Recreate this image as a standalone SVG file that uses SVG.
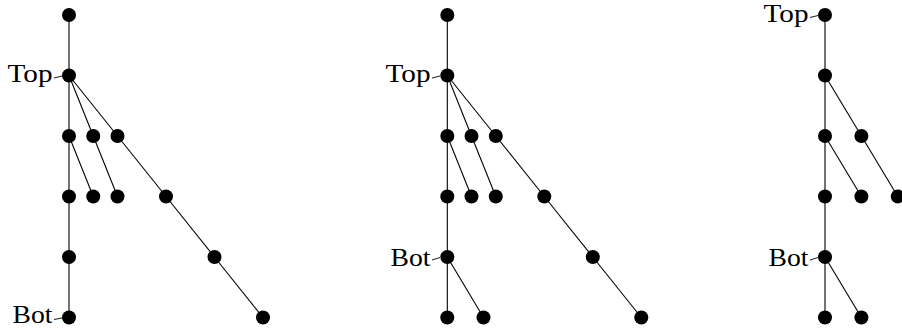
<svg xmlns="http://www.w3.org/2000/svg" width="902" height="329" viewBox="0 0 902 329">
  <style>
    .edge { stroke: #000; stroke-width: 1.1; fill: none; }
    .pin { stroke: #000; stroke-width: 0.9; fill: none; }
    .dot { fill: #000; }
    .lbl { font-family: "Liberation Serif", "Times New Roman", serif; font-size: 26px; fill: #000; text-anchor: end; }
  </style>
  <defs>
    <circle id="dot" r="7" class="dot"/>
  </defs>

  <!-- connectors -->
  <g id="edges" class="edge">
    <!-- tree 1 -->
    <line x1="69" y1="15" x2="69" y2="317.5"/>
    <line x1="69" y1="75.5" x2="93.25" y2="136"/>
    <line x1="69" y1="75.5" x2="117.5" y2="136"/>
    <line x1="69" y1="136" x2="93.25" y2="196.5"/>
    <line x1="93.25" y1="136" x2="117.5" y2="196.5"/>
    <line x1="117.5" y1="136" x2="166" y2="196.5"/>
    <line x1="166" y1="196.5" x2="214.5" y2="257"/>
    <line x1="214.5" y1="257" x2="263" y2="317.5"/>
    <!-- tree 2 -->
    <line x1="447.3" y1="15" x2="447.3" y2="317.5"/>
    <line x1="447.3" y1="75.5" x2="471.5" y2="136"/>
    <line x1="447.3" y1="75.5" x2="495.8" y2="136"/>
    <line x1="447.3" y1="136" x2="471.5" y2="196.5"/>
    <line x1="471.5" y1="136" x2="495.8" y2="196.5"/>
    <line x1="495.8" y1="136" x2="544.3" y2="196.5"/>
    <line x1="544.3" y1="196.5" x2="592.8" y2="257"/>
    <line x1="592.8" y1="257" x2="641.3" y2="317.5"/>
    <line x1="447.3" y1="257" x2="483.5" y2="317.5"/>
    <!-- tree 3 -->
    <line x1="825" y1="15" x2="825" y2="317.5"/>
    <line x1="825" y1="75.5" x2="861.4" y2="136"/>
    <line x1="825" y1="136" x2="861.4" y2="196.5"/>
    <line x1="861.4" y1="136" x2="897.8" y2="196.5"/>
    <line x1="825" y1="257" x2="861.4" y2="317.5"/>
  </g>

  <!-- tree 1 nodes -->
  <g id="t1-n0"><use href="#dot" x="69" y="15"/></g>
  <g id="t1-top">
    <use href="#dot" x="69" y="75.5"/>
    <line class="pin" x1="54" y1="78" x2="62" y2="76"/>
    <text class="lbl" x="52.5" y="82" textLength="45" lengthAdjust="spacingAndGlyphs">Top</text>
  </g>
  <g id="t1-a0"><use href="#dot" x="69" y="136"/></g>
  <g id="t1-a1"><use href="#dot" x="93.25" y="136"/></g>
  <g id="t1-a2"><use href="#dot" x="117.5" y="136"/></g>
  <g id="t1-b0"><use href="#dot" x="69" y="196.5"/></g>
  <g id="t1-b1"><use href="#dot" x="93.25" y="196.5"/></g>
  <g id="t1-b2"><use href="#dot" x="117.5" y="196.5"/></g>
  <g id="t1-b3"><use href="#dot" x="166" y="196.5"/></g>
  <g id="t1-c0"><use href="#dot" x="69" y="257"/></g>
  <g id="t1-c1"><use href="#dot" x="214.5" y="257"/></g>
  <g id="t1-bot">
    <use href="#dot" x="69" y="317.5"/>
    <line class="pin" x1="54" y1="319.5" x2="62" y2="318"/>
    <text class="lbl" x="52.5" y="323" textLength="40" lengthAdjust="spacingAndGlyphs">Bot</text>
  </g>
  <g id="t1-d1"><use href="#dot" x="263" y="317.5"/></g>

  <!-- tree 2 nodes -->
  <g id="t2-n0"><use href="#dot" x="447.3" y="15"/></g>
  <g id="t2-top">
    <use href="#dot" x="447.3" y="75.5"/>
    <line class="pin" x1="432" y1="78" x2="440" y2="76"/>
    <text class="lbl" x="430.5" y="82" textLength="45" lengthAdjust="spacingAndGlyphs">Top</text>
  </g>
  <g id="t2-a0"><use href="#dot" x="447.3" y="136"/></g>
  <g id="t2-a1"><use href="#dot" x="471.5" y="136"/></g>
  <g id="t2-a2"><use href="#dot" x="495.8" y="136"/></g>
  <g id="t2-b0"><use href="#dot" x="447.3" y="196.5"/></g>
  <g id="t2-b1"><use href="#dot" x="471.5" y="196.5"/></g>
  <g id="t2-b2"><use href="#dot" x="495.8" y="196.5"/></g>
  <g id="t2-b3"><use href="#dot" x="544.3" y="196.5"/></g>
  <g id="t2-bot">
    <use href="#dot" x="447.3" y="257"/>
    <line class="pin" x1="432" y1="260" x2="440" y2="257.5"/>
    <text class="lbl" x="430.5" y="265.5" textLength="40" lengthAdjust="spacingAndGlyphs">Bot</text>
  </g>
  <g id="t2-c1"><use href="#dot" x="592.8" y="257"/></g>
  <g id="t2-d0"><use href="#dot" x="447.3" y="317.5"/></g>
  <g id="t2-d1"><use href="#dot" x="483.5" y="317.5"/></g>
  <g id="t2-d2"><use href="#dot" x="641.3" y="317.5"/></g>

  <!-- tree 3 nodes -->
  <g id="t3-top">
    <use href="#dot" x="825" y="15"/>
    <line class="pin" x1="810" y1="17.5" x2="818" y2="15.5"/>
    <text class="lbl" x="808.5" y="21.5" textLength="45" lengthAdjust="spacingAndGlyphs">Top</text>
  </g>
  <g id="t3-n1"><use href="#dot" x="825" y="75.5"/></g>
  <g id="t3-a0"><use href="#dot" x="825" y="136"/></g>
  <g id="t3-a1"><use href="#dot" x="861.4" y="136"/></g>
  <g id="t3-b0"><use href="#dot" x="825" y="196.5"/></g>
  <g id="t3-b1"><use href="#dot" x="861.4" y="196.5"/></g>
  <g id="t3-b2"><use href="#dot" x="897.8" y="196.5"/></g>
  <g id="t3-bot">
    <use href="#dot" x="825" y="257"/>
    <line class="pin" x1="810" y1="260" x2="818" y2="257.5"/>
    <text class="lbl" x="808.5" y="265.5" textLength="40" lengthAdjust="spacingAndGlyphs">Bot</text>
  </g>
  <g id="t3-d0"><use href="#dot" x="825" y="317.5"/></g>
  <g id="t3-d1"><use href="#dot" x="861.4" y="317.5"/></g>
</svg>
